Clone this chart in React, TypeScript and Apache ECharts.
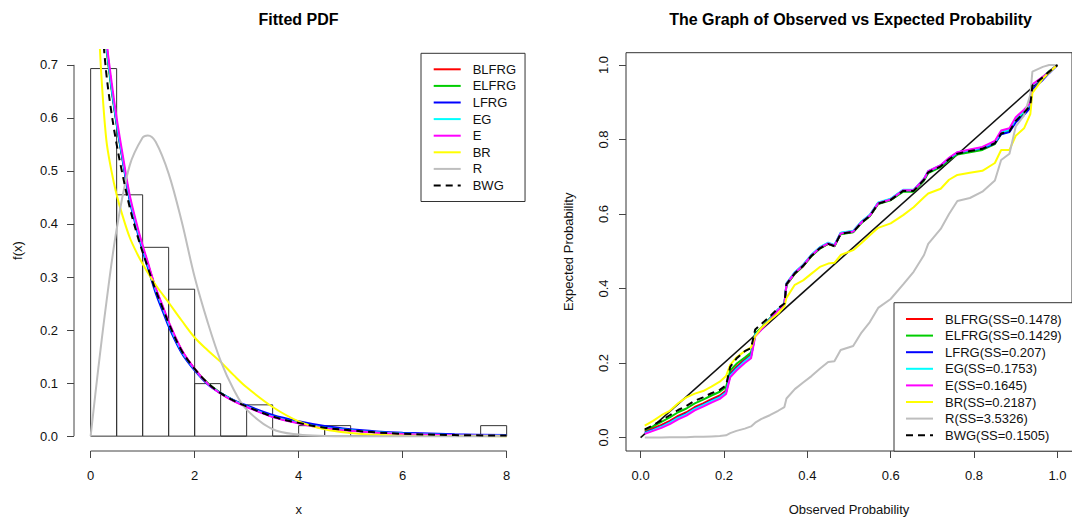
import React, { useEffect, useRef } from "react";
import * as echarts from "echarts";

const FONT = "'Liberation Sans', Arial, Helvetica, sans-serif";

// ---------- shared model info ----------
const modelNames = ["BLFRG", "ELFRG", "LFRG", "EG", "E", "BR", "R", "BWG"];
const ssLabels = [
  "BLFRG(SS=0.1478)",
  "ELFRG(SS=0.1429)",
  "LFRG(SS=0.207)",
  "EG(SS=0.1753)",
  "E(SS=0.1645)",
  "BR(SS=0.2187)",
  "R(SS=3.5326)",
  "BWG(SS=0.1505)",
];
const modelColors = ["#FF0000", "#00CD00", "#0000FF", "#00FFFF", "#FF00FF", "#FFFF00", "#BEBEBE", "#000000"];

// ---------- left panel: histogram + fitted densities ----------
const histBinStart = [0, 0.5, 1, 1.5, 2, 2.5, 3, 3.5, 4, 4.5, 5, 5.5, 6, 6.5, 7, 7.5];
const histBinEnd = [0.5, 1, 1.5, 2, 2.5, 3, 3.5, 4, 4.5, 5, 5.5, 6, 6.5, 7, 7.5, 8];
const histDensity = [0.693, 0.455, 0.356, 0.277, 0.099, 0, 0.059, 0, 0.0198, 0.0198, 0, 0, 0, 0, 0, 0.0198];

const pdfX = [0.15, 0.2, 0.3, 0.4, 0.5, 0.6, 0.75, 0.9, 1.0, 1.1, 1.25, 1.4, 1.5, 1.75, 2.0, 2.25, 2.5, 2.75, 3.0, 3.5, 4.0, 4.5, 5.0, 5.5, 6.0, 7.0, 8.0];
const pdfBLFRG = [0.94, 0.86, 0.74, 0.66, 0.59, 0.532, 0.45, 0.39, 0.356, 0.325, 0.278, 0.24, 0.214, 0.162, 0.127, 0.1, 0.081, 0.067, 0.056, 0.037, 0.025, 0.016, 0.011, 0.0075, 0.005, 0.0024, 0.0012];
const pdfELFRG = [0.92, 0.85, 0.735, 0.655, 0.588, 0.53, 0.448, 0.39, 0.355, 0.324, 0.277, 0.239, 0.213, 0.161, 0.126, 0.1, 0.081, 0.067, 0.056, 0.037, 0.025, 0.016, 0.011, 0.0075, 0.005, 0.0024, 0.0012];
const pdfLFRG = [0.95, 0.87, 0.745, 0.66, 0.59, 0.53, 0.445, 0.385, 0.35, 0.318, 0.27, 0.232, 0.207, 0.157, 0.124, 0.098, 0.081, 0.068, 0.058, 0.04, 0.028, 0.019, 0.013, 0.009, 0.0065, 0.0035, 0.002];
const pdfEG = [0.94, 0.865, 0.742, 0.66, 0.592, 0.533, 0.45, 0.39, 0.355, 0.323, 0.276, 0.238, 0.212, 0.16, 0.126, 0.099, 0.081, 0.067, 0.056, 0.037, 0.025, 0.016, 0.011, 0.0072, 0.0048, 0.0022, 0.001];
const pdfE = [0.95, 0.87, 0.75, 0.67, 0.6, 0.54, 0.455, 0.395, 0.36, 0.328, 0.28, 0.242, 0.216, 0.163, 0.127, 0.099, 0.08, 0.066, 0.055, 0.036, 0.024, 0.015, 0.01, 0.0065, 0.0042, 0.0018, 0.0008];
const pdfBR = [0.8, 0.69, 0.56, 0.5, 0.455, 0.42, 0.375, 0.343, 0.325, 0.308, 0.285, 0.265, 0.252, 0.218, 0.186, 0.162, 0.14, 0.115, 0.092, 0.055, 0.028, 0.013, 0.006, 0.0025, 0.001, 0.0002, 0];
const pdfBWG = [0.87, 0.8, 0.685, 0.61, 0.55, 0.5, 0.432, 0.378, 0.347, 0.318, 0.275, 0.238, 0.213, 0.161, 0.127, 0.1, 0.081, 0.067, 0.056, 0.037, 0.025, 0.016, 0.011, 0.007, 0.0045, 0.002, 0.001];
const rX = [0, 0.15, 0.3, 0.5, 0.75, 1.0, 1.1, 1.25, 1.5, 1.75, 2.0, 2.25, 2.5, 2.75, 3.0, 3.5, 4.0, 4.5, 5.0, 6.0, 8.0];
const pdfR = [0, 0.13, 0.25, 0.39, 0.51, 0.563, 0.567, 0.555, 0.495, 0.405, 0.3, 0.215, 0.142, 0.088, 0.05, 0.013, 0.003, 0.0005, 0, 0, 0];

const pdfXTicks = [0, 2, 4, 6, 8];
const pdfXLabels = ["0", "2", "4", "6", "8"];
const pdfYTicks = [0, 0.1, 0.2, 0.3, 0.4, 0.5, 0.6, 0.7];
const pdfYLabels = ["0.0", "0.1", "0.2", "0.3", "0.4", "0.5", "0.6", "0.7"];
const pdfXRange = [-0.32, 8.32];
const pdfYRange = [-0.028, 0.728];

// ---------- right panel: P-P plot ----------
const obsP = [0.01, 0.03, 0.05, 0.07, 0.09, 0.11, 0.13, 0.15, 0.17, 0.19, 0.205, 0.215, 0.23, 0.25, 0.265, 0.275, 0.29, 0.31, 0.33, 0.345, 0.35, 0.37, 0.39, 0.41, 0.43, 0.45, 0.465, 0.48, 0.51, 0.53, 0.55, 0.57, 0.6, 0.63, 0.655, 0.68, 0.69, 0.72, 0.74, 0.76, 0.79, 0.82, 0.85, 0.865, 0.885, 0.9, 0.92, 0.935, 0.94, 0.965, 0.98, 1.0];
const ppBLFRG = [0.017, 0.025, 0.034, 0.045, 0.058, 0.068, 0.082, 0.092, 0.103, 0.113, 0.126, 0.172, 0.19, 0.21, 0.222, 0.278, 0.293, 0.318, 0.343, 0.356, 0.41, 0.44, 0.46, 0.488, 0.508, 0.52, 0.514, 0.547, 0.552, 0.577, 0.595, 0.628, 0.638, 0.662, 0.662, 0.692, 0.712, 0.728, 0.748, 0.763, 0.77, 0.777, 0.792, 0.818, 0.824, 0.852, 0.873, 0.893, 0.945, 0.967, 0.982, 1.0];
const ppELFRG = [0.02, 0.03, 0.042, 0.054, 0.068, 0.078, 0.092, 0.102, 0.113, 0.123, 0.135, 0.18, 0.198, 0.215, 0.228, 0.28, 0.295, 0.32, 0.343, 0.357, 0.41, 0.44, 0.46, 0.487, 0.507, 0.52, 0.513, 0.546, 0.551, 0.576, 0.594, 0.627, 0.637, 0.66, 0.66, 0.69, 0.71, 0.726, 0.745, 0.76, 0.766, 0.772, 0.788, 0.815, 0.822, 0.85, 0.871, 0.892, 0.946, 0.968, 0.983, 1.0];
const ppLFRG = [0.013, 0.021, 0.03, 0.041, 0.054, 0.064, 0.078, 0.088, 0.099, 0.109, 0.122, 0.168, 0.186, 0.206, 0.219, 0.276, 0.292, 0.318, 0.344, 0.358, 0.413, 0.443, 0.463, 0.49, 0.51, 0.522, 0.516, 0.549, 0.554, 0.579, 0.597, 0.63, 0.64, 0.664, 0.664, 0.694, 0.714, 0.73, 0.749, 0.764, 0.771, 0.776, 0.79, 0.814, 0.82, 0.846, 0.866, 0.885, 0.935, 0.96, 0.978, 1.0];
const ppEG = [0.012, 0.02, 0.029, 0.04, 0.053, 0.063, 0.077, 0.087, 0.098, 0.108, 0.121, 0.166, 0.184, 0.205, 0.218, 0.276, 0.292, 0.318, 0.344, 0.358, 0.414, 0.444, 0.464, 0.491, 0.511, 0.523, 0.517, 0.55, 0.555, 0.58, 0.598, 0.631, 0.641, 0.665, 0.665, 0.695, 0.715, 0.731, 0.75, 0.765, 0.772, 0.778, 0.793, 0.82, 0.826, 0.855, 0.876, 0.895, 0.946, 0.967, 0.982, 1.0];
const ppE = [0.01, 0.018, 0.026, 0.036, 0.049, 0.059, 0.073, 0.083, 0.094, 0.104, 0.117, 0.162, 0.18, 0.2, 0.213, 0.272, 0.29, 0.316, 0.342, 0.356, 0.412, 0.442, 0.462, 0.489, 0.509, 0.521, 0.515, 0.548, 0.553, 0.578, 0.596, 0.629, 0.639, 0.664, 0.664, 0.694, 0.715, 0.731, 0.751, 0.766, 0.773, 0.78, 0.796, 0.824, 0.83, 0.86, 0.88, 0.898, 0.948, 0.968, 0.982, 1.0];
const ppBR = [0.032, 0.045, 0.06, 0.072, 0.092, 0.108, 0.118, 0.125, 0.137, 0.15, 0.165, 0.195, 0.215, 0.232, 0.242, 0.272, 0.295, 0.315, 0.333, 0.352, 0.375, 0.41, 0.422, 0.44, 0.458, 0.467, 0.469, 0.49, 0.503, 0.522, 0.543, 0.563, 0.575, 0.597, 0.618, 0.645, 0.655, 0.668, 0.692, 0.705, 0.711, 0.716, 0.737, 0.772, 0.772, 0.81, 0.83, 0.868, 0.925, 0.963, 0.98, 1.0];
const ppR = [0, 0, 0, 0.001, 0.001, 0.001, 0.002, 0.002, 0.003, 0.004, 0.006, 0.012, 0.018, 0.024, 0.03, 0.04, 0.05, 0.06, 0.072, 0.082, 0.105, 0.13, 0.148, 0.165, 0.185, 0.203, 0.205, 0.235, 0.246, 0.282, 0.31, 0.348, 0.372, 0.411, 0.445, 0.49, 0.52, 0.56, 0.6, 0.635, 0.643, 0.66, 0.69, 0.745, 0.762, 0.835, 0.865, 0.92, 0.982, 0.995, 1.0, 1.0];
const ppBWG = [0.022, 0.033, 0.046, 0.06, 0.074, 0.085, 0.099, 0.108, 0.119, 0.128, 0.14, 0.19, 0.212, 0.232, 0.24, 0.29, 0.305, 0.325, 0.347, 0.36, 0.412, 0.441, 0.461, 0.488, 0.508, 0.52, 0.514, 0.547, 0.552, 0.577, 0.595, 0.628, 0.638, 0.662, 0.662, 0.692, 0.712, 0.728, 0.747, 0.762, 0.769, 0.775, 0.79, 0.816, 0.822, 0.85, 0.872, 0.892, 0.945, 0.967, 0.982, 1.0];
const diagP = [0, 1];

const ppTicks = [0, 0.2, 0.4, 0.6, 0.8, 1.0];
const ppLabels = ["0.0", "0.2", "0.4", "0.6", "0.8", "1.0"];
const ppXRange = [-0.035, 1.035];
const ppYRange = [-0.036, 1.033];

const labelFor = (ticks: number[], labels: string[]) => (v: number) => {
  const i = ticks.findIndex((t) => Math.abs(t - v) < 1e-9);
  return i >= 0 ? labels[i] : "";
};

const pair = (xs: number[], ys: number[]) => xs.map((x, i) => [x, ys[i]]);

const textBase = { fontFamily: FONT, fontSize: 13, color: "#111" };

function buildOption() {
  const pdfSeriesData = [pdfBLFRG, pdfELFRG, pdfLFRG, pdfEG, pdfE, pdfBR, null, pdfBWG];
  const ppSeriesData = [ppBLFRG, ppELFRG, ppLFRG, ppEG, ppE, ppBR, ppR, ppBWG];

  const series: any[] = [];

  // histogram
  series.push({
    type: "custom",
    name: "hist",
    xAxisIndex: 0,
    yAxisIndex: 0,
    silent: true,
    encode: { x: [0, 1], y: 2 },
    data: histBinStart.map((s, i) => [s, histBinEnd[i], histDensity[i]]),
    renderItem: (params: any, api: any) => {
      const p0 = api.coord([api.value(0), 0]);
      const p1 = api.coord([api.value(1), api.value(2)]);
      return {
        type: "rect",
        shape: { x: p0[0], y: p1[1], width: p1[0] - p0[0], height: p0[1] - p1[1] },
        style: { fill: "none", stroke: "#333", lineWidth: 1 },
      };
    },
    z: 1,
  });

  // R-style axis lines (from first to last tick)
  series.push({
    type: "line",
    xAxisIndex: 0,
    yAxisIndex: 0,
    silent: true,
    clip: false,
    symbol: "none",
    data: [
      [pdfXRange[0], pdfYTicks[0]],
      [pdfXRange[0], pdfYTicks[pdfYTicks.length - 1]],
    ],
    lineStyle: { color: "#444", width: 1 },
  });
  series.push({
    type: "line",
    xAxisIndex: 0,
    yAxisIndex: 0,
    silent: true,
    clip: false,
    symbol: "none",
    data: [
      [pdfXTicks[0], pdfYRange[0]],
      [pdfXTicks[pdfXTicks.length - 1], pdfYRange[0]],
    ],
    lineStyle: { color: "#444", width: 1 },
  });

  modelNames.forEach((name, k) => {
    const data = name === "R" ? pair(rX, pdfR) : pair(pdfX, pdfSeriesData[k] as number[]);
    series.push({
      type: "line",
      name,
      xAxisIndex: 0,
      yAxisIndex: 0,
      data,
      symbol: "none",
      smooth: 0.35,
      clip: true,
      lineStyle: {
        color: modelColors[k],
        width: 2,
        type: name === "BWG" ? [7, 5] : "solid",
      },
      itemStyle: { color: modelColors[k] },
      z: 3 + k * 0.01,
    });
  });

  // right: diagonal reference line
  series.push({
    type: "line",
    xAxisIndex: 1,
    yAxisIndex: 1,
    silent: true,
    symbol: "none",
    data: pair(diagP, diagP),
    lineStyle: { color: "#111", width: 1.6 },
    z: 2,
  });

  ssLabels.forEach((name, k) => {
    series.push({
      type: "line",
      name,
      xAxisIndex: 1,
      yAxisIndex: 1,
      data: pair(obsP, ppSeriesData[k]),
      symbol: "none",
      clip: true,
      lineStyle: {
        color: modelColors[k],
        width: 2,
        type: k === 7 ? [7, 5] : "solid",
      },
      itemStyle: { color: modelColors[k] },
      z: 3 + k * 0.01,
    });
  });

  const tickStyle = { color: "#444", width: 1 };

  const legendCommon = {
    orient: "vertical",
    itemWidth: 27,
    itemHeight: 16,
    itemGap: 0.6,
    selectedMode: false,
    backgroundColor: "#fff",
    borderColor: "#333",
    borderWidth: 1,
    borderRadius: 0,
    itemStyle: { opacity: 0 },
    lineStyle: { width: 2 },
    textStyle: { ...textBase, color: "#111", lineHeight: 16, padding: [0, 0, 0, 7] },
  };

  const hiddenLine = { show: false, onZero: false };

  return {
    animation: false,
    backgroundColor: "#fff",
    textStyle: { fontFamily: FONT },
    graphic: [
      {
        type: "text",
        x: 298.5,
        y: 19,
        style: { text: "Fitted PDF", font: `bold 16px ${FONT}`, fill: "#000", align: "center", verticalAlign: "middle" },
      },
      {
        type: "text",
        x: 850.5,
        y: 19,
        style: {
          text: "The Graph of Observed vs Expected Probability",
          font: `bold 16px ${FONT}`,
          fill: "#000",
          align: "center",
          verticalAlign: "middle",
        },
      },
    ],
    grid: [
      { left: 74, top: 50, right: 548.7, bottom: 69.4, show: false },
      {
        left: 626,
        top: 52.7,
        right: -4,
        bottom: 69.3,
        show: true,
        borderColor: "#333",
        borderWidth: 1,
        backgroundColor: "transparent",
      },
    ],
    xAxis: [
      {
        gridIndex: 0,
        type: "value",
        min: pdfXRange[0],
        max: pdfXRange[1],
        axisLine: hiddenLine,
        splitLine: { show: false },
        axisTick: { show: true, length: 7, lineStyle: tickStyle, customValues: pdfXTicks },
        axisLabel: { ...textBase, margin: 18, customValues: pdfXTicks, formatter: labelFor(pdfXTicks, pdfXLabels) },
        name: "x",
        nameLocation: "middle",
        nameGap: 52,
        nameTextStyle: textBase,
      },
      {
        gridIndex: 1,
        type: "value",
        min: ppXRange[0],
        max: ppXRange[1],
        axisLine: hiddenLine,
        splitLine: { show: false },
        axisTick: { show: true, length: 7, lineStyle: tickStyle, customValues: ppTicks },
        axisLabel: { ...textBase, margin: 18, customValues: ppTicks, formatter: labelFor(ppTicks, ppLabels) },
        name: "Observed Probability",
        nameLocation: "middle",
        nameGap: 52,
        nameTextStyle: textBase,
      },
    ],
    yAxis: [
      {
        gridIndex: 0,
        type: "value",
        min: pdfYRange[0],
        max: pdfYRange[1],
        axisLine: hiddenLine,
        splitLine: { show: false },
        axisTick: { show: true, length: 7, lineStyle: tickStyle, customValues: pdfYTicks },
        axisLabel: { ...textBase, margin: 16, customValues: pdfYTicks, formatter: labelFor(pdfYTicks, pdfYLabels) },
        name: "f(x)",
        nameLocation: "middle",
        nameGap: 50,
        nameRotate: 90,
        nameTextStyle: textBase,
      },
      {
        gridIndex: 1,
        type: "value",
        min: ppYRange[0],
        max: ppYRange[1],
        axisLine: hiddenLine,
        splitLine: { show: false },
        axisTick: { show: true, length: 7, lineStyle: tickStyle, customValues: ppTicks },
        axisLabel: {
          ...textBase,
          margin: 16,
          rotate: 90,
          customValues: ppTicks,
          formatter: labelFor(ppTicks, ppLabels),
        },
        name: "Expected Probability",
        nameLocation: "middle",
        nameGap: 51,
        nameRotate: 90,
        nameTextStyle: textBase,
      },
    ],
    legend: [
      {
        ...legendCommon,
        data: modelNames,
        left: 421,
        top: 53.3,
        padding: [8, 9, 8, 11.7],
      },
      {
        ...legendCommon,
        data: ssLabels,
        left: 894,
        top: 302.7,
        padding: [8.3, 24, 8, 11],
      },
    ],
    series,
  };
}

export default function App() {
  const ref = useRef<HTMLDivElement>(null);
  useEffect(() => {
    if (!ref.current) return;
    const chart = echarts.init(ref.current, undefined, { renderer: "svg" });
    chart.setOption(buildOption() as any);
    return () => chart.dispose();
  }, []);
  return (
    <div
      ref={ref}
      style={{ position: "fixed", left: 0, top: 0, width: 1072, height: 521, background: "#fff" }}
    />
  );
}
